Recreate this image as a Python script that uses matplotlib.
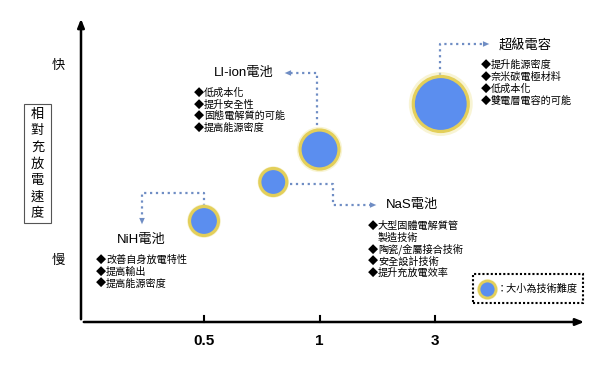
import numpy as np
import matplotlib
matplotlib.use("Agg")
import matplotlib.pyplot as plt
from matplotlib.patches import Rectangle

# data
techs = ["NiH電池", "NaS電池", "LI-ion電池", "超級電容"]
x_values = [0.5, 0.8, 1.0, 3.1]          # position along the x axis (ticks 0.5 / 1 / 3)
speed = [1.6, 2.2, 2.7, 3.4]             # relative charge/discharge speed (慢=1, 快=4)
difficulty = [2.9, 2.7, 3.9, 5.5]        # technical difficulty -> bubble size
x_ticks = [0.5, 1, 3]
x_tick_labels = ["0.5", "1", "3"]
speed_labels = ["慢", "快"]
notes = [
    ["改善自身放電特性", "提高輸出", "提高能源密度"],
    ["大型固體電解質管\n製造技術", "陶瓷/金屬接合技術", "安全設計技術", "提升充放電效率"],
    ["低成本化", "提升安全性", "固態電解質的可能", "提高能源密度"],
    ["提升能源密度", "奈米碳電極材料", "低成本化", "雙電層電容的可能"],
]

CJK = ["Noto Sans CJK TC", "DejaVu Sans"]
LAT = ["Liberation Sans", "Noto Sans CJK TC", "DejaVu Sans"]

# equally spaced ticks 0.5, 1, 3 -> slots 1, 2, 3
def xpos(v):
    return np.interp(v, [0.5, 1, 3, 5], [1, 2, 3, 4])

# helper to place annotations by pixel (from top-left)
def P(px, py):
    return ((px - 88.5) / 115.5, (325 - py) / 65)

fig = plt.figure(figsize=(6.09, 3.70), dpi=100)
ax = fig.add_axes([0, 0, 1, 1])
ax.set_xlim(-88.5 / 115.5, (609 - 88.5) / 115.5)
ax.set_ylim(-45 / 65, 325 / 65)
ax.axis("off")

# axes with arrows
ox, oy = P(81, 322)
ax.annotate("", xy=P(587, 322), xytext=(ox, oy),
            arrowprops=dict(arrowstyle="-|>,head_length=0.5,head_width=0.2", color="black", lw=1.8))
ax.annotate("", xy=P(81, 16), xytext=(ox, oy),
            arrowprops=dict(arrowstyle="-|>,head_length=0.5,head_width=0.2", color="black", lw=1.8))

for v, lab in zip(x_ticks, x_tick_labels):
    xp = xpos(v)
    ax.plot([xp, xp], [oy, oy + 6 / 65], color="black", lw=1.5)
    ax.text(xp, oy - 19 / 65, lab, ha="center", va="center", fontsize=11,
            fontweight="bold", family=LAT)

for yv, lab in zip([1, 4], speed_labels):
    ax.text(P(58, 0)[0], yv, lab, ha="center", va="center", fontsize=9.5, family=CJK)

# vertical y label in a box
bx0, by0 = P(24, 223)
bx1, by1 = P(51, 104)
ax.add_patch(Rectangle((bx0, by0), bx1 - bx0, by1 - by0, fill=False, ec="#555555", lw=0.8))
for i, ch in enumerate("相對充放電速度"):
    ax.text(*P(37.5, 114 + i * 16.7), ch, ha="center", va="center", fontsize=9.5, family=CJK)

# bubbles
xs = xpos(np.array(x_values))
sizes = (np.array(difficulty) * 7.2) ** 2
ax.scatter(xs, speed, s=sizes * 1.35, color="#F4EDB8", alpha=0.6, lw=0, zorder=3)
ax.scatter(xs, speed, s=sizes, color="#5B8EEF", edgecolor="#E3CF5A", lw=2.3, zorder=4)

conn = "#6F8DC4"

def connector(pts, end):
    xy = [P(*p) for p in pts]
    ax.plot([p[0] for p in xy], [p[1] for p in xy], ls=":", color=conn, lw=1.6, zorder=2)
    ax.annotate("", xy=P(*end), xytext=xy[-1],
                arrowprops=dict(arrowstyle="-|>,head_length=0.45,head_width=0.2",
                                color=conn, lw=0.01), zorder=2)

connector([(204, 206), (204, 193), (142, 193), (142, 220)], (142, 227))
connector([(290, 184), (333, 184), (333, 205), (372, 205)], (379, 205))
connector([(317, 131), (317, 73), (289, 73)], (282, 73))
connector([(440, 75), (440, 44), (485, 44)], (492, 44))

def block(title, tpos, lines, lpos, step):
    ax.text(*P(*tpos), title, ha="left", va="center", fontsize=9.5, family=LAT)
    y = lpos[1]
    for ln in lines:
        parts = ln.split("\n")
        ax.text(*P(lpos[0], y), "◆", ha="left", va="center", fontsize=7.3, family=CJK)
        ax.text(*P(lpos[0] + 10, y), parts[0], ha="left", va="center", fontsize=7.3,
                fontweight="medium", family=CJK)
        for extra in parts[1:]:
            y += step
            ax.text(*P(lpos[0] + 10, y), extra, ha="left", va="center", fontsize=7.3,
                    fontweight="medium", family=CJK)
        y += step

block(techs[0], (117, 240), notes[0], (96, 260), 11.7)
block(techs[1], (386, 205), notes[1], (368, 226), 11.8)
block(techs[2], (214, 73), notes[2], (194, 93), 11.6)
block(techs[3], (499, 45), notes[3], (481, 65), 12)

# legend box
lx0, ly0 = P(473, 303)
lx1, ly1 = P(583, 274)
ax.add_patch(Rectangle((lx0, ly0), lx1 - lx0, ly1 - ly0, fill=False, ec="black",
                       ls=(0, (1, 1)), lw=1.5))
ax.scatter(*P(487, 289), s=(18 * 0.72) ** 2 * 1.35, color="#F4EDB8", alpha=0.6, lw=0, zorder=3)
ax.scatter(*P(487, 289), s=(17 * 0.72) ** 2, color="#5B8EEF", edgecolor="#E3CF5A", lw=2.0, zorder=4)
ax.text(*P(497, 289), "：大小為技術難度", ha="left", va="center", fontsize=7.3, family=CJK)

fig.savefig("out.png", dpi=100, facecolor="white")
